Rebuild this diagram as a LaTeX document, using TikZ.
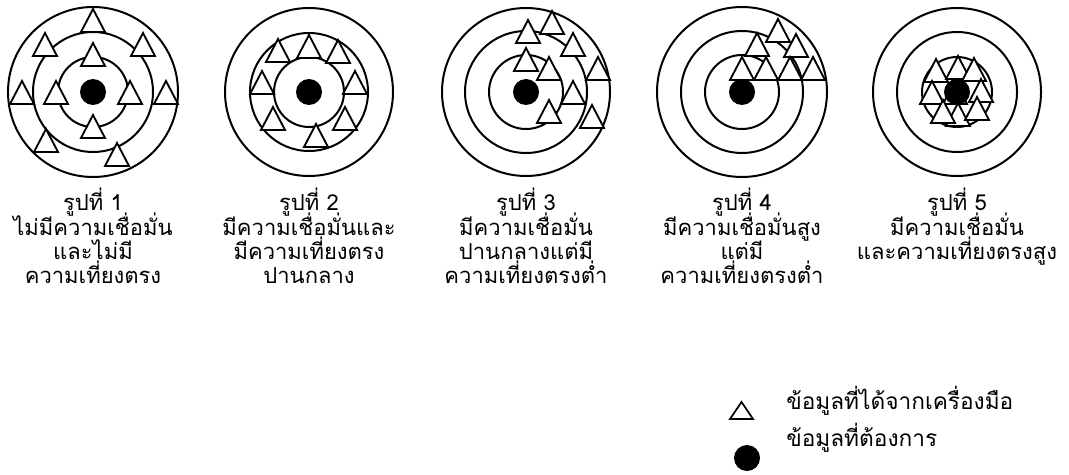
\documentclass[tikz,border=0pt]{standalone}
\usepackage{fontspec}
\newfontfamily\thaifont[Script=Thai]{Loma}
\newcommand\tri[2]{\draw[tri] (#1-12,#2) -- (#1+12,#2) -- (#1,#2-23) -- cycle;}
\begin{document}
\begin{tikzpicture}[x=0.75pt,y=-0.75pt,
  ring/.style={line width=1.5pt},
  tri/.style={line width=1.4pt,fill=white,line join=miter},
  captext/.style={anchor=base,inner sep=0pt,font=\thaifont\fontsize{16.5pt}{20pt}\selectfont},
  legtext/.style={anchor=base west,inner sep=0pt,font=\thaifont\fontsize{17pt}{20pt}\selectfont}]
\useasboundingbox (0,0) rectangle (1069,474);
% target 1
\foreach \r in {85,60,35} \draw[ring] (93,92) circle[radius=\r];
\fill (93,92) circle[radius=13];
\tri{93}{32}\tri{45}{56}\tri{143}{56}\tri{93}{66}\tri{22}{104}\tri{56}{104}
\tri{130}{104}\tri{166}{104}\tri{93}{138}\tri{46}{152}\tri{117}{166}
% target 2
\foreach \r in {84,59,35} \draw[ring] (309,92) circle[radius=\r];
\fill (309,92) circle[radius=13];
\tri{278}{62}\tri{309}{58}\tri{338}{63}\tri{262}{94}\tri{355}{94}
\tri{273}{130}\tri{345}{130}\tri{316}{147}
% target 3
\foreach \r in {84,61,37} \draw[ring] (526,92) circle[radius=\r];
\fill (526,92) circle[radius=13];
\tri{528}{43}\tri{552}{34}\tri{573}{56}\tri{526}{71}\tri{549}{80}\tri{598}{80}
\tri{573}{104}\tri{549}{123}\tri{592}{128}
% target 4
\foreach \r in {85,61,37} \draw[ring] (742,92) circle[radius=\r];
\fill (742,92) circle[radius=13];
\tri{778}{42}\tri{757}{56}\tri{796}{57}\tri{742}{80}\tri{766}{80}\tri{790}{80}\tri{813}{80}
% target 5
\foreach \r in {84,60,35} \draw[ring] (957,92) circle[radius=\r];
\tri{958}{126}\tri{955}{104}
\tri{936}{82}\tri{958}{79}\tri{974}{81}\tri{932}{104}\tri{981}{102}\tri{943}{123}\tri{977}{120}
\fill (957,92) circle[radius=13];
% captions
\node[captext] (a1) at (93,210) {รูปที่ 1};
\node[captext] (a2) at (93,235) {ไม่มีความเชื่อมั่น};
\node[captext] (a3) at (93,259) {และไม่มี};
\node[captext] (a4) at (93,283) {ความเที่ยงตรง};
\node[captext] (b1) at (309,210) {รูปที่ 2};
\node[captext] (b2) at (309,235) {มีความเชื่อมั่นและ};
\node[captext] (b3) at (309,259) {มีความเที่ยงตรง};
\node[captext] (b4) at (309,283) {ปานกลาง};
\node[captext] (c1) at (526,210) {รูปที่ 3};
\node[captext] (c2) at (526,235) {มีความเชื่อมั่น};
\node[captext] (c3) at (526,259) {ปานกลางแต่มี};
\node[captext] (c4) at (526,283) {ความเที่ยงตรงต่ำ};
\node[captext] (d1) at (742,210) {รูปที่ 4};
\node[captext] (d2) at (742,235) {มีความเชื่อมั่นสูง};
\node[captext] (d3) at (742,259) {แต่มี};
\node[captext] (d4) at (742,283) {ความเที่ยงตรงต่ำ};
\node[captext] (e1) at (957,210) {รูปที่ 5};
\node[captext] (e2) at (957,235) {มีความเชื่อมั่น};
\node[captext] (e3) at (957,259) {และความเที่ยงตรงสูง};
% legend
\draw[line width=1.3pt] (730,419) -- (753,419) -- (741.5,402) -- cycle;
\fill (747,458) circle[radius=13];
\node[legtext] (l1) at (786,409) {ข้อมูลที่ได้จากเครื่องมือ};
\node[legtext] (l2) at (786,446) {ข้อมูลที่ต้องการ};
\end{tikzpicture}
\end{document}
